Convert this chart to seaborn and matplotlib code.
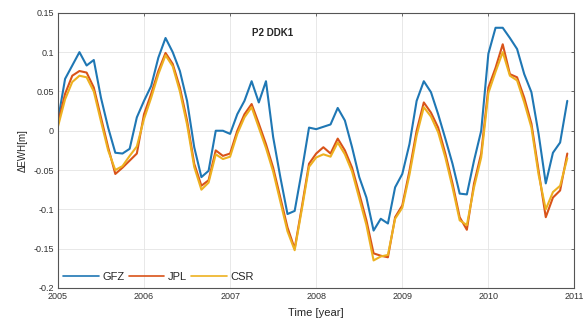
"""P2 DDK1: monthly EWH anomalies from GFZ, JPL and CSR solutions (2005-2010)."""
import numpy as np
import pandas as pd
import matplotlib
matplotlib.use("Agg")
import matplotlib.pyplot as plt
import seaborn as sns

# monthly epochs, Jan 2005 .. Dec 2010
months = np.arange(72)
time_year = 2005 + months / 12

gfz = [0.013, 0.066, 0.083, 0.100, 0.083, 0.090, 0.042, 0.004, -0.028, -0.029, -0.023, 0.017,
       0.038, 0.057, 0.093, 0.118, 0.100, 0.076, 0.038, -0.021, -0.059, -0.051, 0.000, 0.000,
       -0.004, 0.021, 0.038, 0.063, 0.036, 0.063, -0.008, -0.059, -0.106, -0.102, -0.051, 0.004,
       0.002, 0.005, 0.008, 0.029, 0.013, -0.021, -0.059, -0.085, -0.127, -0.112, -0.118, -0.072,
       -0.055, -0.017, 0.038, 0.063, 0.049, 0.021, -0.010, -0.042, -0.080, -0.081, -0.038, 0.000,
       0.098, 0.131, 0.131, 0.118, 0.104, 0.072, 0.049, -0.004, -0.067, -0.028, -0.015, 0.038]

jpl = [0.009, 0.047, 0.070, 0.076, 0.074, 0.055, 0.017, -0.021, -0.055, -0.047, -0.038, -0.029,
       0.021, 0.047, 0.076, 0.099, 0.085, 0.055, 0.013, -0.042, -0.070, -0.063, -0.025, -0.032,
       -0.029, 0.000, 0.021, 0.034, 0.009, -0.017, -0.047, -0.085, -0.123, -0.150, -0.097, -0.042,
       -0.029, -0.021, -0.029, -0.010, -0.025, -0.047, -0.080, -0.114, -0.156, -0.159, -0.161, -0.110,
       -0.095, -0.051, 0.000, 0.036, 0.023, 0.004, -0.029, -0.067, -0.110, -0.126, -0.067, -0.029,
       0.055, 0.080, 0.110, 0.072, 0.068, 0.042, 0.009, -0.051, -0.110, -0.085, -0.076, -0.029]

csr = [0.005, 0.040, 0.062, 0.070, 0.068, 0.050, 0.012, -0.025, -0.050, -0.045, -0.032, -0.020,
       0.015, 0.042, 0.072, 0.096, 0.082, 0.050, 0.008, -0.046, -0.075, -0.066, -0.030, -0.036,
       -0.033, -0.004, 0.017, 0.030, 0.004, -0.022, -0.052, -0.090, -0.128, -0.152, -0.100, -0.046,
       -0.034, -0.030, -0.033, -0.015, -0.030, -0.052, -0.086, -0.120, -0.165, -0.160, -0.158, -0.112,
       -0.098, -0.056, -0.006, 0.030, 0.018, -0.002, -0.034, -0.072, -0.114, -0.120, -0.072, -0.034,
       0.048, 0.075, 0.100, 0.070, 0.064, 0.036, 0.004, -0.056, -0.100, -0.078, -0.070, -0.035]

series_names = ["GFZ", "JPL", "CSR"]
series_colors = ["#1f77b4", "#D95319", "#EDB120"]

y_ticks = [0.15, 0.1, 0.05, 0, -0.05, -0.1, -0.15, -0.2]
y_tick_labels = ["0.15", "0.1", "0.05", "0", "-0.05", "-0.1", "-0.15", "-0.2"]
x_ticks = [2005, 2006, 2007, 2008, 2009, 2010, 2011]


def build_frame():
    parts = []
    for name, vals in zip(series_names, [gfz, jpl, csr]):
        parts.append(pd.DataFrame({"time": time_year, "ewh": vals, "centre": name}))
    return pd.concat(parts, ignore_index=True)


def main():
    sns.set_theme(style="whitegrid")
    plt.rcParams["font.family"] = ["Liberation Sans", "DejaVu Sans"]

    df = build_frame()

    fig, ax = plt.subplots(figsize=(5.85, 3.21), dpi=100)
    fig.subplots_adjust(left=0.099, right=0.982, top=0.96, bottom=0.103)

    sns.lineplot(data=df, x="time", y="ewh", hue="centre", hue_order=series_names,
                 palette=dict(zip(series_names, series_colors)), linewidth=1.5, ax=ax)

    ax.set_xlim(2005, 2011)
    ax.set_ylim(-0.2, 0.15)
    ax.set_xticks(x_ticks)
    ax.set_xticklabels([str(t) for t in x_ticks], fontsize=6.5, color="#333333")
    ax.set_yticks(y_ticks)
    ax.set_yticklabels(y_tick_labels, fontsize=6.5, color="#333333")
    ax.tick_params(direction="in", length=2.5, top=True, right=True, pad=3,
                   color="#555555", width=0.6)

    ax.grid(True, color="#e4e4e4", linewidth=0.6)
    for spine in ax.spines.values():
        spine.set_visible(True)
        spine.set_color("#555555")
        spine.set_linewidth(0.8)

    ax.set_xlabel("Time [year]", fontsize=8, labelpad=5)
    ax.set_ylabel("\u0394EWH[m]", fontsize=7, labelpad=4)

    ax.text(2007.49, 0.124, "P2 DDK1", fontsize=7, fontweight="bold",
            ha="center", va="center")

    leg = ax.legend(loc="lower left", ncol=3, fontsize=8, frameon=False,
                    handlelength=3.2, columnspacing=0.4, handletextpad=0.3,
                    borderaxespad=0.1)
    for line in leg.get_lines():
        line.set_linewidth(1.2)

    fig.savefig("out.png", dpi=100)
    plt.close(fig)


if __name__ == "__main__":
    main()
